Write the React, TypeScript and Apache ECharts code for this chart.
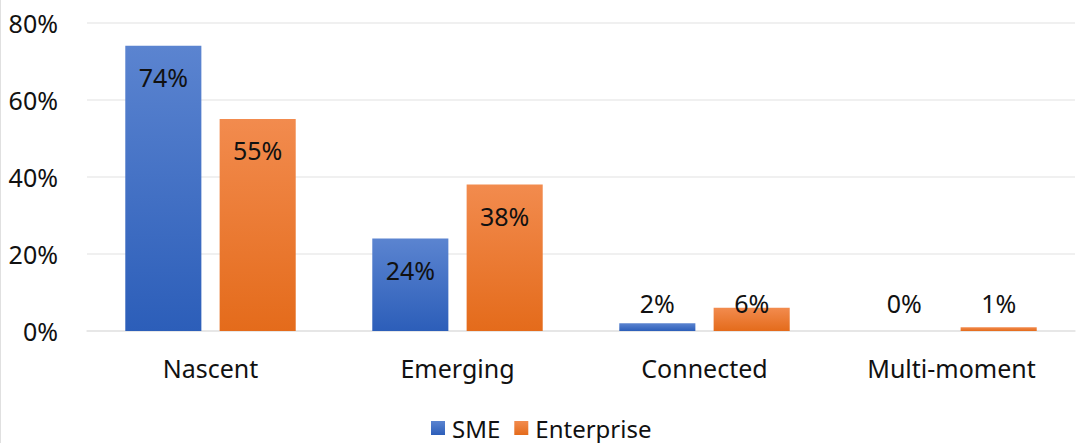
import React, { useEffect, useRef } from "react";
import * as echarts from "echarts";

const categories = ["Nascent", "Emerging", "Connected", "Multi-moment"];
const smeValues = [74, 24, 2, 0];
const enterpriseValues = [55, 38, 6, 1];
const yTicks = [0, 20, 40, 60, 80];

const FONT = "'Noto Sans', sans-serif";
const TEXT = "#111111";

function grad(top: string, bottom: string) {
  return new echarts.graphic.LinearGradient(0, 0, 0, 1, [
    { offset: 0, color: top },
    { offset: 1, color: bottom },
  ]);
}

function labelFor(v: number) {
  const inside = v >= 10;
  return {
    show: true,
    position: inside ? "insideTop" : "insideBottom",
    distance: inside ? 19 : 16,
    formatter: `${v}%`,
    color: TEXT,
    fontFamily: FONT,
    fontSize: 25,
  };
}

export default function App() {
  const ref = useRef<HTMLDivElement>(null);
  useEffect(() => {
    const chart = echarts.init(ref.current!, null, { renderer: "svg" });
    const blue = grad("#5b84d0", "#2c5eb9");
    const orange = grad("#f28b4e", "#e46b1b");
    chart.setOption({
      animation: false,
      backgroundColor: "#ffffff",
      grid: { left: 87, right: 15, top: 22.5, bottom: 112, containLabel: false },
      legend: {
        data: ["SME", "Enterprise"],
        left: 426,
        top: 411,
        itemWidth: 14,
        itemHeight: 14,
        itemGap: 14,
        icon: "rect",
        textStyle: { color: TEXT, fontFamily: FONT, fontSize: 24, lineHeight: 24, padding: [0, 0, 0, 2] },
      },
      xAxis: {
        type: "category",
        data: categories,
        axisLine: { show: true, lineStyle: { color: "#e3e3e3", width: 1.5 } },
        axisTick: { show: false },
        axisLabel: { color: TEXT, fontFamily: FONT, fontSize: 25, margin: 24 },
      },
      yAxis: {
        type: "value",
        min: yTicks[0],
        max: yTicks[yTicks.length - 1],
        interval: 20,
        axisLine: { show: false },
        axisTick: { show: false },
        splitLine: { lineStyle: { color: "#ebebeb", width: 1.5 } },
        axisLabel: { color: TEXT, fontFamily: FONT, fontSize: 25, margin: 29, formatter: "{value}%" },
      },
      series: [
        {
          name: "SME",
          type: "bar",
          barGap: "24%",
          barCategoryGap: "31%",
          itemStyle: { color: blue },
          data: smeValues.map((v) => ({ value: v, label: labelFor(v) })),
        },
        {
          name: "Enterprise",
          type: "bar",
          barGap: "24%",
          barCategoryGap: "31%",
          itemStyle: { color: orange },
          data: enterpriseValues.map((v) => ({ value: v, label: labelFor(v) })),
        },
      ],
      graphic: [
        {
          type: "line",
          shape: { x1: 0.5, y1: 0, x2: 0.5, y2: 443 },
          style: { stroke: "#e0e0e0", lineWidth: 1 },
        },
      ],
    });
    return () => chart.dispose();
  }, []);
  return (
    <div
      ref={ref}
      style={{ position: "fixed", left: 0, top: 0, width: 1090, height: 443 }}
    />
  );
}
